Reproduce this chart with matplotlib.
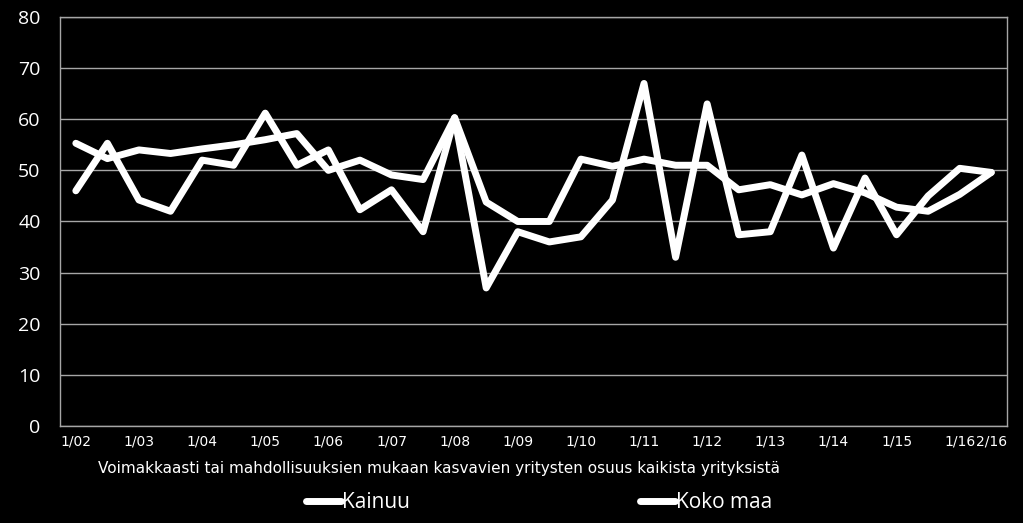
import matplotlib.pyplot as plt
import numpy as np

# half-year periods 1/02 ... 1/16, plus 2/16
periods = []
for yr in range(2, 16):
    periods += [f'1/{yr:02d}', f'7/{yr:02d}']
periods += ['1/16', '2/16']

kainuu = [46, 55.3, 44.2, 42, 52, 51, 61.2, 51, 54, 42.3, 46.2, 38, 60.3, 27,
          38, 36, 37, 44.2, 67, 33, 63, 37.4, 38, 53, 34.8, 48.5, 37.4, 45, 50.4, 49.6]
koko_maa = [55.3, 52.3, 54, 53.3, 54.2, 55, 56, 57.2, 50, 52, 49.1, 48.2, 60.3, 43.8,
            40, 40, 52.2, 50.8, 52.2, 51, 51, 46.2, 47.2, 45.2, 47.4, 45.6, 42.8, 42, 45.3, 49.6]

x = np.arange(len(periods))
tick_pos = [i for i, p in enumerate(periods) if p.startswith('1/') or i == len(periods) - 1]
tick_lab = [periods[i] for i in tick_pos]

fig = plt.figure(figsize=(10.23, 5.23), dpi=100, facecolor='black')
ax = fig.add_axes([0.0587, 0.1855, 0.9257, 0.782], facecolor='black')

ax.plot(x, kainuu, color='white', lw=5, solid_joinstyle='round', solid_capstyle='round', label='Kainuu')
ax.plot(x, koko_maa, color='white', lw=5, solid_joinstyle='round', solid_capstyle='round', label='Koko maa')

ax.set_xlim(-0.5, len(periods) - 0.5)
ax.set_ylim(0, 80)
ax.set_yticks(range(0, 81, 10))
ax.set_xticks(tick_pos)
ax.set_xticklabels(tick_lab, fontsize=10, color='white', family='DejaVu Sans')
for lab in ax.get_yticklabels():
    lab.set_fontsize(14)
    lab.set_color('white')
    lab.set_family('Open Sans')
ax.tick_params(axis='y', length=0, pad=14)
ax.tick_params(axis='x', length=0, pad=6)
ax.grid(axis='y', color='#a6a6a6', lw=1)
ax.set_axisbelow(True)
for s in ax.spines.values():
    s.set_color('#a6a6a6')
    s.set_linewidth(1)

ax.set_xlabel('Voimakkaasti tai mahdollisuuksien mukaan kasvavien yritysten osuus kaikista yrityksistä',
              fontsize=11, color='white', family='DejaVu Sans')
ax.xaxis.set_label_coords(0.4, -0.085)

leg = fig.legend(loc='lower center', bbox_to_anchor=(0.527, -0.017), ncol=2, frameon=False,
                 prop={'family': 'Open Sans', 'size': 15}, labelcolor='white',
                 handlelength=1.7, handletextpad=0.05, columnspacing=11)

plt.savefig('out.png', dpi=100, facecolor='black')
